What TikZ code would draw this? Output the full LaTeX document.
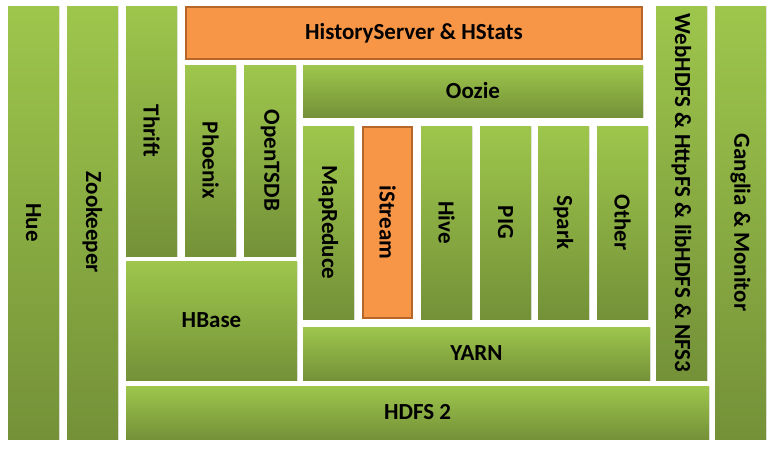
\documentclass[tikz,border=0pt]{standalone}
\usepackage{fontspec}
\setmainfont{Carlito}
\usetikzlibrary{shadows}
\definecolor{gtop}{RGB}{158,198,76}
\definecolor{gbot}{RGB}{116,145,56}
\definecolor{orf}{RGB}{247,150,70}
\definecolor{ord}{RGB}{182,102,40}
\tikzset{
  base/.style={inner sep=0pt, outer sep=0pt, text=black,
    font=\fontsize{23}{27}\selectfont\bfseries,
    drop shadow={opacity=0.18, shadow xshift=1.2pt, shadow yshift=-1.2pt}},
  gbox/.style={base, top color=gtop, bottom color=gbot},
  obox/.style={base, fill=orf, draw=ord, line width=1.6pt},
  vtext/.style={label={[rotate=-90, font=\fontsize{23}{27}\selectfont\bfseries]center:#1}}
}
\begin{document}
\begin{tikzpicture}[x=1pt, y=-1pt]
\useasboundingbox (0,0) rectangle (773,451);
% tall columns
\node[gbox, minimum width=51, minimum height=433, vtext=Hue] (hue) at (33.5,222.5) {};
\node[gbox, minimum width=51, minimum height=433, vtext=Zookeeper] (zk) at (92.5,222.5) {};
\node[gbox, minimum width=51, minimum height=250, vtext=Thrift] (thrift) at (151.5,131) {};
\node[gbox, minimum width=51, minimum height=191, vtext=Phoenix] (phoenix) at (210.5,160.5) {};
\node[gbox, minimum width=52, minimum height=191, vtext=OpenTSDB] (tsdb) at (270,160.5) {};
\node[gbox, minimum width=51, minimum height=374, vtext={WebHDFS \& HttpFS \& libHDFS \& NFS3}] (webhdfs) at (681.5,193) {};
\node[gbox, minimum width=51, minimum height=433, vtext={Ganglia \& Monitor}] (ganglia) at (740.5,222.5) {};
% top bars
\node[obox, minimum width=456, minimum height=52] (hist) at (414,33) {HistoryServer \& HStats};
\node[gbox, minimum width=340, minimum height=52] (oozie) at (473,91) {Oozie};
% middle columns
\node[gbox, minimum width=51, minimum height=193, vtext=MapReduce] (mr) at (328.5,222.5) {};
\node[obox, minimum width=49.5, minimum height=191.5, vtext=iStream] (istream) at (387.5,222.5) {};
\node[gbox, minimum width=51, minimum height=193, vtext=Hive] (hive) at (446.5,222.5) {};
\node[gbox, minimum width=51, minimum height=193, vtext=PIG] (pig) at (505.5,222.5) {};
\node[gbox, minimum width=51, minimum height=193, vtext=Spark] (spark) at (563.5,222.5) {};
\node[gbox, minimum width=51, minimum height=193, vtext=Other] (other) at (622.5,222.5) {};
% lower blocks
\node[gbox, minimum width=171, minimum height=119] (hbase) at (211.5,320.5) {HBase};
\node[gbox, minimum width=347, minimum height=53] (yarn) at (476.5,353.5) {YARN};
\node[gbox, minimum width=583, minimum height=53] (hdfs) at (417.5,412.5) {HDFS 2};
\end{tikzpicture}
\end{document}
